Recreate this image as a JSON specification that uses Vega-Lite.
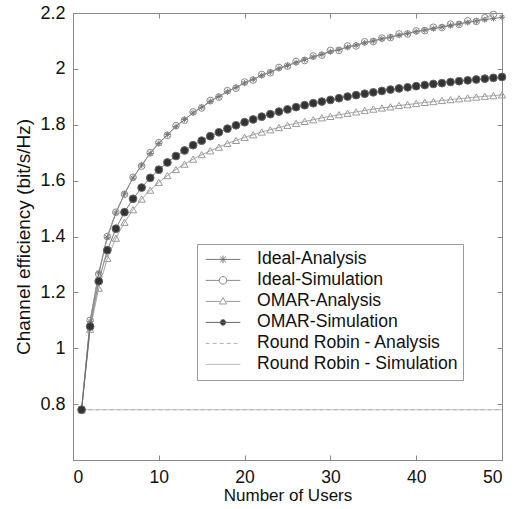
{
  "$schema": "https://vega.github.io/schema/vega-lite/v6.json",
  "autosize": "none",
  "width": 429,
  "height": 447,
  "padding": {"left": 73, "top": 13, "right": 13, "bottom": 49},
  "background": "white",
  "config": {
    "view": {"stroke": "#8a8a8a", "strokeWidth": 1},
    "font": "Liberation Sans",
    "axis": {"grid": false, "domainColor": "#8a8a8a", "tickColor": "#8a8a8a", "labelFont": "Liberation Sans", "titleFont": "Liberation Sans", "labelColor": "#111", "titleColor": "#111", "titleFontWeight": "normal"}
  },
  "data": {"values": [
    {"n":1,"IA":0.78,"IS":0.78,"OA":0.78,"OS":0.78,"RA":0.78,"RS":0.78},
    {"n":2,"IA":1.095,"IS":1.10,"OA":1.068,"OS":1.078,"RA":0.78,"RS":0.78},
    {"n":3,"IA":1.27,"IS":1.265,"OA":1.215,"OS":1.24,"RA":0.78,"RS":0.78},
    {"n":4,"IA":1.397,"IS":1.40,"OA":1.322,"OS":1.351,"RA":0.78,"RS":0.78},
    {"n":5,"IA":1.484,"IS":1.487,"OA":1.394,"OS":1.428,"RA":0.78,"RS":0.78},
    {"n":6,"IA":1.553,"IS":1.551,"OA":1.451,"OS":1.487,"RA":0.78,"RS":0.78},
    {"n":7,"IA":1.609,"IS":1.612,"OA":1.496,"OS":1.535,"RA":0.78,"RS":0.78},
    {"n":8,"IA":1.656,"IS":1.652,"OA":1.534,"OS":1.575,"RA":0.78,"RS":0.78},
    {"n":9,"IA":1.697,"IS":1.700,"OA":1.566,"OS":1.610,"RA":0.78,"RS":0.78},
    {"n":10,"IA":1.733,"IS":1.736,"OA":1.594,"OS":1.639,"RA":0.78,"RS":0.78},
    {"n":11,"IA":1.765,"IS":1.762,"OA":1.618,"OS":1.665,"RA":0.78,"RS":0.78},
    {"n":12,"IA":1.793,"IS":1.797,"OA":1.640,"OS":1.688,"RA":0.78,"RS":0.78},
    {"n":13,"IA":1.819,"IS":1.816,"OA":1.659,"OS":1.708,"RA":0.78,"RS":0.78},
    {"n":14,"IA":1.842,"IS":1.846,"OA":1.677,"OS":1.727,"RA":0.78,"RS":0.78},
    {"n":15,"IA":1.863,"IS":1.860,"OA":1.693,"OS":1.743,"RA":0.78,"RS":0.78},
    {"n":16,"IA":1.883,"IS":1.887,"OA":1.707,"OS":1.759,"RA":0.78,"RS":0.78},
    {"n":17,"IA":1.901,"IS":1.899,"OA":1.720,"OS":1.773,"RA":0.78,"RS":0.78},
    {"n":18,"IA":1.918,"IS":1.922,"OA":1.733,"OS":1.786,"RA":0.78,"RS":0.78},
    {"n":19,"IA":1.934,"IS":1.931,"OA":1.744,"OS":1.798,"RA":0.78,"RS":0.78},
    {"n":20,"IA":1.949,"IS":1.953,"OA":1.755,"OS":1.809,"RA":0.78,"RS":0.78},
    {"n":21,"IA":1.963,"IS":1.960,"OA":1.764,"OS":1.819,"RA":0.78,"RS":0.78},
    {"n":22,"IA":1.976,"IS":1.980,"OA":1.774,"OS":1.829,"RA":0.78,"RS":0.78},
    {"n":23,"IA":1.989,"IS":1.986,"OA":1.782,"OS":1.838,"RA":0.78,"RS":0.78},
    {"n":24,"IA":2.001,"IS":2.005,"OA":1.790,"OS":1.847,"RA":0.78,"RS":0.78},
    {"n":25,"IA":2.012,"IS":2.010,"OA":1.798,"OS":1.855,"RA":0.78,"RS":0.78},
    {"n":26,"IA":2.022,"IS":2.026,"OA":1.805,"OS":1.863,"RA":0.78,"RS":0.78},
    {"n":27,"IA":2.033,"IS":2.030,"OA":1.812,"OS":1.870,"RA":0.78,"RS":0.78},
    {"n":28,"IA":2.042,"IS":2.046,"OA":1.818,"OS":1.877,"RA":0.78,"RS":0.78},
    {"n":29,"IA":2.052,"IS":2.049,"OA":1.825,"OS":1.883,"RA":0.78,"RS":0.78},
    {"n":30,"IA":2.061,"IS":2.066,"OA":1.830,"OS":1.889,"RA":0.78,"RS":0.78},
    {"n":31,"IA":2.069,"IS":2.066,"OA":1.836,"OS":1.895,"RA":0.78,"RS":0.78},
    {"n":32,"IA":2.077,"IS":2.082,"OA":1.841,"OS":1.901,"RA":0.78,"RS":0.78},
    {"n":33,"IA":2.085,"IS":2.082,"OA":1.846,"OS":1.906,"RA":0.78,"RS":0.78},
    {"n":34,"IA":2.093,"IS":2.097,"OA":1.851,"OS":1.911,"RA":0.78,"RS":0.78},
    {"n":35,"IA":2.100,"IS":2.098,"OA":1.856,"OS":1.916,"RA":0.78,"RS":0.78},
    {"n":36,"IA":2.107,"IS":2.110,"OA":1.860,"OS":1.921,"RA":0.78,"RS":0.78},
    {"n":37,"IA":2.114,"IS":2.112,"OA":1.864,"OS":1.926,"RA":0.78,"RS":0.78},
    {"n":38,"IA":2.120,"IS":2.125,"OA":1.869,"OS":1.930,"RA":0.78,"RS":0.78},
    {"n":39,"IA":2.127,"IS":2.125,"OA":1.872,"OS":1.934,"RA":0.78,"RS":0.78},
    {"n":40,"IA":2.133,"IS":2.136,"OA":1.876,"OS":1.938,"RA":0.78,"RS":0.78},
    {"n":41,"IA":2.139,"IS":2.137,"OA":1.880,"OS":1.942,"RA":0.78,"RS":0.78},
    {"n":42,"IA":2.144,"IS":2.149,"OA":1.883,"OS":1.946,"RA":0.78,"RS":0.78},
    {"n":43,"IA":2.150,"IS":2.148,"OA":1.887,"OS":1.949,"RA":0.78,"RS":0.78},
    {"n":44,"IA":2.155,"IS":2.160,"OA":1.890,"OS":1.953,"RA":0.78,"RS":0.78},
    {"n":45,"IA":2.161,"IS":2.159,"OA":1.893,"OS":1.956,"RA":0.78,"RS":0.78},
    {"n":46,"IA":2.166,"IS":2.172,"OA":1.896,"OS":1.959,"RA":0.78,"RS":0.78},
    {"n":47,"IA":2.171,"IS":2.170,"OA":1.899,"OS":1.962,"RA":0.78,"RS":0.78},
    {"n":48,"IA":2.176,"IS":2.183,"OA":1.902,"OS":1.965,"RA":0.78,"RS":0.78},
    {"n":49,"IA":2.180,"IS":2.195,"OA":1.904,"OS":1.968,"RA":0.78,"RS":0.78},
    {"n":50,"IA":2.185,"IS":null,"OA":1.907,"OS":1.971,"RA":0.78,"RS":0.78}
  ]},
  "transform": [
    {"fold": ["RS", "RA", "IA", "IS", "OA", "OS"], "as": ["s", "v"]},
    {"filter": "datum.v != null"}
  ],
  "layer": [
    {
      "mark": {"type": "line", "strokeWidth": 1, "clip": true},
      "encoding": {
        "x": {"field": "n", "type": "quantitative", "scale": {"domain": [0, 50], "nice": false, "zero": false},
          "axis": {"orient": "bottom", "values": [0, 10, 20, 30, 40, 50], "tickSize": -5, "labelPadding": 13, "labelFontSize": 17.5, "title": "Number of Users", "titleFontSize": 17, "titlePadding": 2}},
        "y": {"field": "v", "type": "quantitative", "scale": {"domain": [0.6, 2.2], "nice": false, "zero": false},
          "axis": {"orient": "left", "values": [0.8, 1, 1.2, 1.4, 1.6, 1.8, 2, 2.2], "format": "~g", "tickSize": -5, "labelPadding": 13, "labelFontSize": 18, "title": "Channel efficiency (bit/s/Hz)", "titleFontSize": 19, "titlePadding": 6}},
        "detail": {"field": "s"},
        "stroke": {"field": "s", "type": "nominal", "sort": ["IA", "IS", "OA", "OS", "RA", "RS"],
          "scale": {"domain": ["IA", "IS", "OA", "OS", "RA", "RS"], "range": ["#777777", "#8a8a8a", "#9a9a9a", "#666666", "#b0b0b0", "#b8b8b8"]},
          "legend": {
            "orient": "none", "legendX": 124, "legendY": 231, "title": null,
            "labelExpr": "{'IA':'Ideal-Analysis','IS':'Ideal-Simulation','OA':'OMAR-Analysis','OS':'OMAR-Simulation','RA':'Round Robin - Analysis','RS':'Round Robin - Simulation'}[datum.label]",
            "labelFont": "Liberation Sans", "labelFontSize": 17.6, "labelColor": "#111", "labelOffset": 16, "labelLimit": 400,
            "symbolSize": 1200, "symbolStrokeWidth": 1, "symbolOffset": 3, "rowPadding": 0, "clipHeight": 20.8,
            "padding": 5, "strokeColor": "#999999", "fillColor": "white",
            "encode": {"symbols": {"update": {
              "shape": {"signal": "datum.value == 'IA' ? 'M-1,0H1M-0.22,0H0.22M0,-0.22V0.22M-0.16,-0.16L0.16,0.16M-0.16,0.16L0.16,-0.16' : datum.value == 'IS' ? 'M-1,0H-0.22M0.22,0H1M0.22,0A0.22,0.22,0,1,1,-0.22,0A0.22,0.22,0,1,1,0.22,0Z' : datum.value == 'OA' ? 'M-1,0H-0.18M0.18,0H1M0,-0.22L0.21,0.15L-0.21,0.15Z' : datum.value == 'OS' ? 'M-1,0H1M0.16,0A0.16,0.16,0,1,1,-0.16,0A0.16,0.16,0,1,1,0.16,0Z' : 'M-1,0H1'"},
              "fill": {"signal": "datum.value == 'OS' ? '#333333' : 'transparent'"},
              "strokeDash": {"signal": "datum.value == 'RA' ? [4, 3] : []"}
            }}}
          }},
        "strokeDash": {"field": "s", "type": "nominal", "scale": {"domain": ["IA", "IS", "OA", "OS", "RA", "RS"], "range": [[1, 0], [1, 0], [1, 0], [1, 0], [4, 3], [1, 0]]}, "legend": null}
      }
    },
    {
      "transform": [{"filter": "indexof(['IA','IS','OA','OS'], datum.s) >= 0"}],
      "mark": {"type": "point", "filled": true, "opacity": 1, "strokeWidth": 1, "clip": false},
      "encoding": {
        "x": {"field": "n", "type": "quantitative", "axis": {"orient": "top", "values": [0, 10, 20, 30, 40, 50], "tickSize": -5, "labels": false, "title": null}},
        "y": {"field": "v", "type": "quantitative", "axis": {"orient": "right", "values": [0.8, 1, 1.2, 1.4, 1.6, 1.8, 2, 2.2], "tickSize": -5, "labels": false, "title": null}},
        "shape": {"field": "s", "type": "nominal", "scale": {"domain": ["IA", "IS", "OA", "OS"], "range": ["M-1,0H1M0,-1V1M-0.7,-0.7L0.7,0.7M-0.7,0.7L0.7,-0.7", "circle", "triangle-up", "circle"]}, "legend": null},
        "fill": {"field": "s", "type": "nominal", "scale": {"domain": ["IA", "IS", "OA", "OS"], "range": ["transparent", "transparent", "transparent", "#333333"]}, "legend": null},
        "stroke": {"field": "s", "type": "nominal", "scale": {"domain": ["IA", "IS", "OA", "OS"], "range": ["#777777", "#8a8a8a", "#a0a0a0", "#333333"]}, "legend": null},
        "size": {"field": "s", "type": "nominal", "scale": {"domain": ["IA", "IS", "OA", "OS"], "range": [36, 60, 55, 28]}, "legend": null}
      }
    }
  ],
  "resolve": {"axis": {"x": "independent", "y": "independent"}}
}
